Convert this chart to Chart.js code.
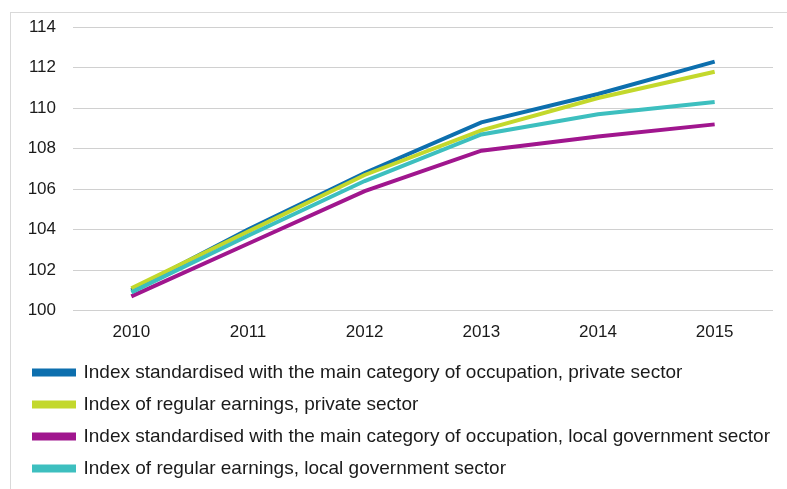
<!DOCTYPE html>
<html>
<head>
<meta charset="utf-8">
<script src="https://cdn.jsdelivr.net/npm/chart.js@4.4.1/dist/chart.umd.min.js"></script>
<style>
  body { margin: 0; background: #fff; }
  #frame { position: absolute; left: 10px; top: 12px; width: 900px; height: 600px; border: 1px solid #d9d9d9; }
  #wrap { position: absolute; left: 0; top: 0; width: 787px; height: 489px; }
</style>
</head>
<body>
<div id="frame"></div>
<div id="wrap"><canvas id="myChart"></canvas></div>
<script>
var years = ['2010', '2011', '2012', '2013', '2014', '2015'];
var privStd = [101.0, 104.0, 106.8, 109.3, 110.7, 112.3];
var privReg = [101.1, 103.9, 106.7, 108.9, 110.5, 111.8];
var localStd = [100.7, 103.3, 105.9, 107.9, 108.6, 109.2];
var localReg = [100.9, 103.7, 106.4, 108.7, 109.7, 110.3];
var seriesNames = [
    'Index standardised with the main category of occupation, private sector',
    'Index of regular earnings, private sector',
    'Index standardised with the main category of occupation, local government sector',
    'Index of regular earnings, local government sector'
];
var colors = ['#0d6fae', '#c3d82c', '#a0168e', '#3dbfbf'];

function makeSet(i, values) {
    return {
        label: seriesNames[i],
        data: values,
        borderColor: colors[i],
        backgroundColor: colors[i],
        borderWidth: 4,
        pointRadius: 0,
        tension: 0,
        fill: false,
        order: 4 - i
    };
}

var ctx = document.getElementById('myChart').getContext('2d');
var myChart = new Chart(ctx, {
    type: 'line',
    data: {
        labels: years,
        datasets: [makeSet(0, privStd), makeSet(1, privReg), makeSet(2, localStd), makeSet(3, localReg)]
    },
    options: {
        responsive: true,
        maintainAspectRatio: false,
        animation: false,
        layout: { padding: { left: 21, right: 14, top: 21, bottom: 1 } },
        plugins: {
            tooltip: { enabled: false },
            legend: {
                position: 'bottom',
                align: 'start',
                labels: {
                    boxWidth: 40,
                    boxHeight: 4,
                    padding: 13,
                    color: '#1a1a1a',
                    font: { family: 'Liberation Sans, Arial', size: 19 },
                    sort: function(a, b) { return a.datasetIndex - b.datasetIndex; }
                }
            }
        },
        scales: {
            x: {
                offset: true,
                afterFit: function(scale) { scale.height = scale.height - 5; },
                grid: { display: false, drawTicks: false },
                border: { display: false },
                ticks: { color: '#1a1a1a', padding: 12, font: { family: 'Liberation Sans, Arial', size: 17 } }
            },
            y: {
                min: 100,
                max: 114,
                afterFit: function(scale) { scale.width = 52; },
                grid: { color: '#d0d0d0', drawTicks: false },
                border: { display: false },
                ticks: { stepSize: 2, color: '#1a1a1a', padding: 17, font: { family: 'Liberation Sans, Arial', size: 17 } }
            }
        }
    }
});
</script>
</body>
</html>
